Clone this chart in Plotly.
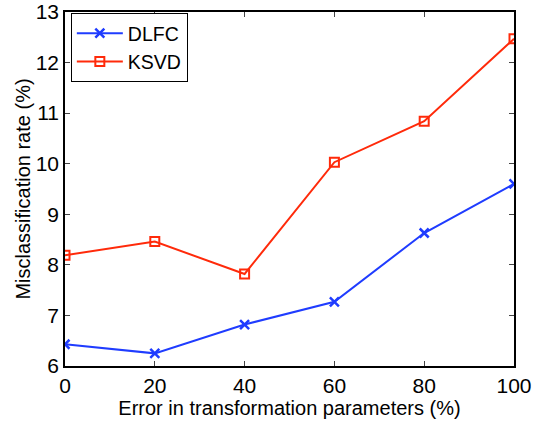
import plotly.graph_objects as go

x_vals = [0, 20, 40, 60, 80, 100]
dlfc = [6.43, 6.25, 6.82, 7.27, 8.63, 9.60]
ksvd = [8.19, 8.46, 7.82, 10.03, 10.84, 12.47]
x_ticks = [0, 20, 40, 60, 80, 100]
y_ticks = [6, 7, 8, 9, 10, 11, 12, 13]

fig = go.Figure()
fig.add_trace(go.Scatter(x=x_vals, y=dlfc, mode="lines+markers", name="DLFC",
                         line=dict(color="#1f3cff", width=2),
                         marker=dict(symbol="x-thin", size=9, line=dict(color="#1f3cff", width=2.5))))
fig.add_trace(go.Scatter(x=x_vals, y=ksvd, mode="lines+markers", name="KSVD",
                         line=dict(color="#ff2a0a", width=2),
                         marker=dict(symbol="square-open", size=9, color="#ff2a0a", line=dict(width=2))))

font = "Liberation Sans, Arial, Helvetica, sans-serif"
fig.update_layout(
    width=546, height=423,
    margin=dict(l=65, r=32, t=12, b=57, autoexpand=False),
    paper_bgcolor="white", plot_bgcolor="white",
    font=dict(family=font, size=20, color="black"),
    showlegend=True,
    legend=dict(x=0.013, y=0.997, xanchor="left", yanchor="top",
                bgcolor="white", bordercolor="black", borderwidth=1,
                font=dict(size=19.5), itemwidth=46, tracegroupgap=0),
    xaxis=dict(range=[0, 100], tickvals=x_ticks, ticks="inside", ticklen=5,
               showline=True, linecolor="black", linewidth=1.5, mirror="ticks",
               showgrid=False, zeroline=False, automargin=False,
               tickfont=dict(size=21), ticklabeloverflow="allow",
               title=dict(text="Error in transformation parameters (%)", standoff=1, font=dict(size=20))),
    yaxis=dict(range=[6, 13], tickvals=y_ticks, ticks="inside", ticklen=5,
               showline=True, linecolor="black", linewidth=1.5, mirror="ticks",
               showgrid=False, zeroline=False, automargin=False,
               tickfont=dict(size=21), ticklabeloverflow="allow",
               title=dict(text="Misclassification rate (%)", standoff=0, font=dict(size=20))),
)
fig.write_html("out.html", config={"displayModeBar": False},
               post_script="document.body.style.margin='0';")
